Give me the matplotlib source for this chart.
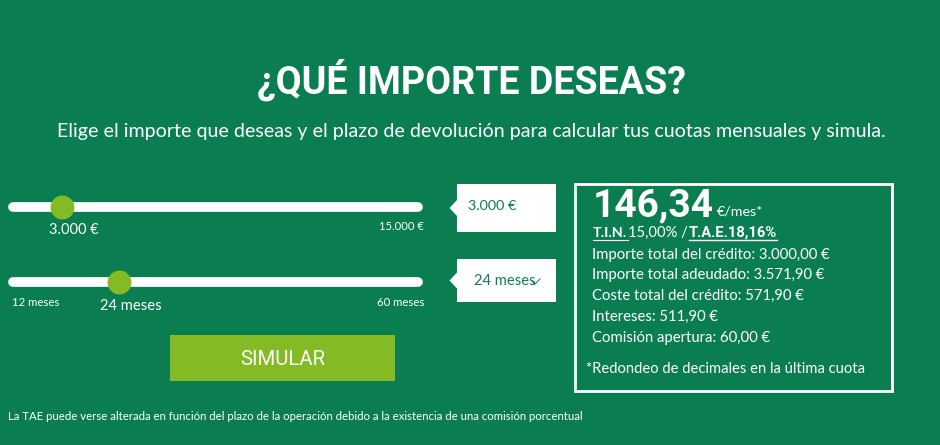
import matplotlib
matplotlib.use("Agg")
import matplotlib.pyplot as plt
from matplotlib.patches import Rectangle, Polygon

W, H = 940, 445
GREEN = "#0a7e51"
LIME = "#84bb25"
TITLE = "¿QUÉ IMPORTE DESEAS?"
SUBTITLE = "Elige el importe que deseas y el plazo de devolución para calcular tus cuotas mensuales y simula."
amount_value = 3000
amount_scale = (1200, 15000)
term_value = 24
term_scale = (10.9, 60)
amount_label = "3.000 €"
amount_max_label = "15.000 €"
term_label = "24 meses"
term_min_label = "12 meses"
term_max_label = "60 meses"
fee = "146,34"
fee_unit = "€/mes*"
tin_label = "T.I.N."
tin_value = "15,00% /"
tae_label = "T.A.E.18,16%"
detail_lines = ["Importe total del crédito: 3.000,00 €",
                "Importe total adeudado: 3.571,90 €",
                "Coste total del crédito: 571,90 €",
                "Intereses: 511,90 €",
                "Comisión apertura: 60,00 €"]
note = "*Redondeo de decimales en la última cuota"
button = "SIMULAR"
footer = "La TAE puede verse alterada en función del plazo de la operación debido a la existencia de una comisión porcentual"

fig = plt.figure(figsize=(W/100, H/100), dpi=100, facecolor=GREEN)
ax = fig.add_axes([0, 0, 1, 1])
ax.set_xlim(0, W); ax.set_ylim(H, 0); ax.axis("off")

def T(x, y, s, size, color="white", ha="left", family="Lato", weight="normal", **kw):
    return ax.text(x, y, s, fontsize=size, color=color, ha=ha, va="center", family=family, weight=weight, **kw)

T(471.5, 80, TITLE, 27.1, ha="center", family="Roboto", weight="bold")
T(471.5, 131, SUBTITLE, 14.1, ha="center")

def slider(y, value, scale):
    s = fig.add_axes([13/W, 1-(y+16)/H, 405/W, 32/H])
    pad = (scale[1]-scale[0]) * 5/415
    s.set_xlim(scale[0]+pad, scale[1]-pad); s.set_ylim(-1, 1); s.axis("off")
    s.plot([scale[0]+pad, scale[1]-pad], [0, 0], color="white", lw=7.0, solid_capstyle="round", clip_on=False)
    s.plot([value], [0], "o", color=LIME, ms=17.2, mec="none", clip_on=False)

slider(206.5, amount_value, amount_scale)
slider(281.5, term_value, term_scale)

T(73.5, 230, amount_label, 10.5, ha="center")
T(424, 227, amount_max_label, 8.1, ha="right")
T(12, 303, term_min_label, 8.2)
T(130.5, 306, term_label, 10.6, ha="center")
T(424, 303, term_max_label, 8.2, ha="right")

for top, bot in [(184, 232), (259, 302)]:
    ax.add_patch(Rectangle((457, top), 99, bot-top, fc="white", ec="none"))
    mid = (top+bot)/2
    ax.add_patch(Polygon([(449.5, mid), (457, mid-8), (457, mid+8)], fc="white", ec="none"))
T(468, 206, amount_label, 10.4, color=GREEN)
T(474, 281, term_label, 10.6, color=GREEN)
ax.plot([532, 534.5, 540], [281, 284.5, 279], color=GREEN, lw=0.7)

ax.add_patch(Rectangle((574.5, 184), 317, 206.5, fc="none", ec="white", lw=2))
T(593, 206, fee, 28, family="Roboto", weight="bold")
T(717, 211, fee_unit, 10.3)
T(593, 233, tin_label, 10.4, weight="bold")
ax.plot([593, 628], [240, 240], color="white", lw=0.8)
T(628, 233, tin_value, 10.6)
T(689, 233, tae_label, 10.6, family="Roboto", weight="bold")
ax.plot([689, 777], [240, 240], color="white", lw=1)
for y, s in zip([255, 275, 296, 317, 338], detail_lines):
    T(592, y, s, 10.7)
T(586, 369, note, 10.6)

ax.add_patch(Rectangle((170, 335), 225, 45.5, fc=LIME, ec="none"))
T(282.5, 359.5, button, 14.7, ha="center", family="Roboto")
T(8, 417, footer, 8.2)

fig.savefig("out.png", dpi=100, facecolor=GREEN)
